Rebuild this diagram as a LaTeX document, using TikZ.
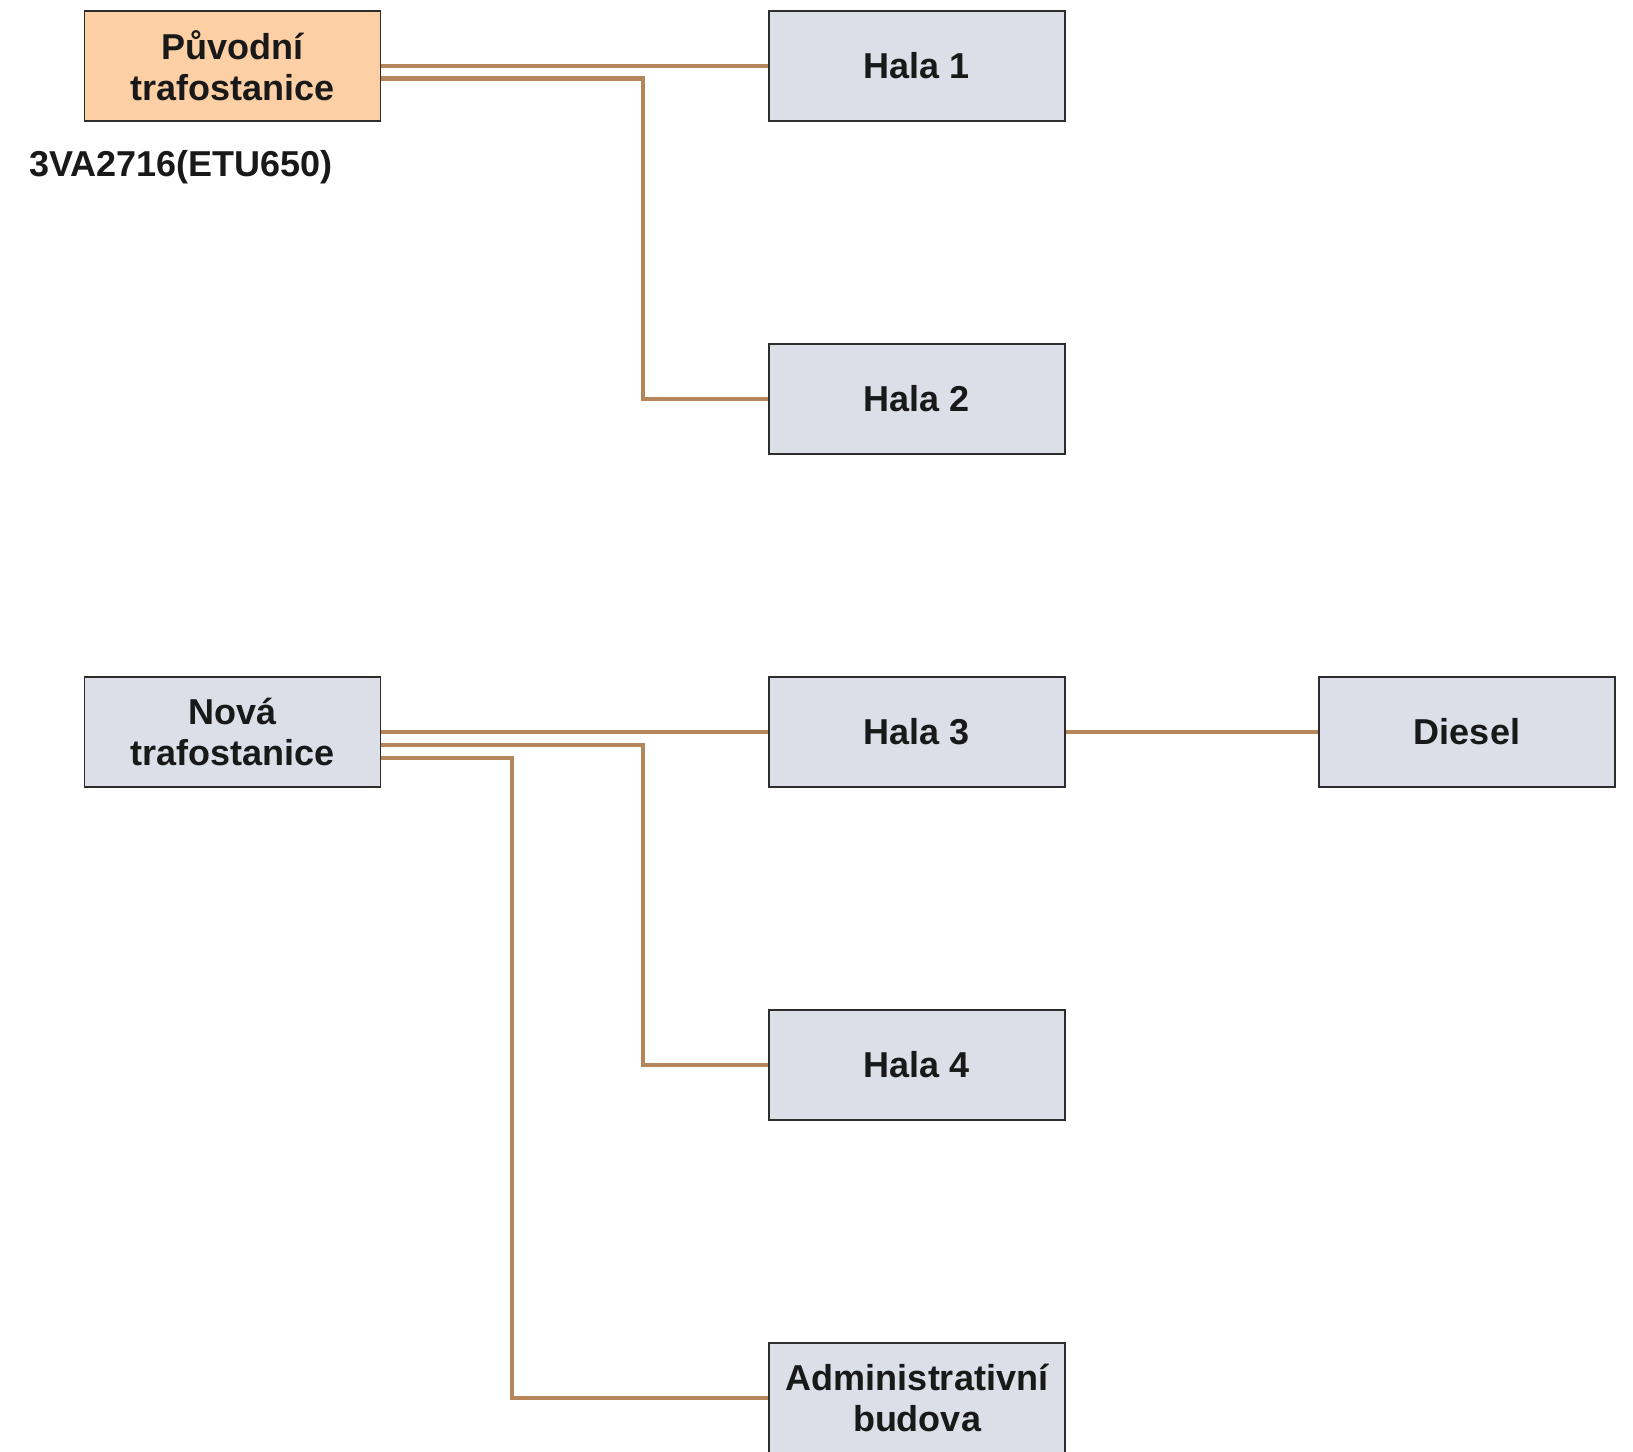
\documentclass[tikz,border=0pt]{standalone}
\usepackage{xcolor}
\usepackage{fontspec}
\setmainfont{Liberation Sans}
\usepackage{tikz}
\usetikzlibrary{positioning, calc}
\definecolor{cablebrown}{RGB}{181,134,90}
\definecolor{boxgrey}{RGB}{220,222,232}
\definecolor{boxorange}{RGB}{253,207,165}
\definecolor{edgedark}{RGB}{45,45,45}
\definecolor{txtdark}{RGB}{25,25,25}
\tikzset{
  block/.style={rectangle, draw=edgedark, fill=boxgrey,
    minimum width=296pt, minimum height=110pt, align=center,
    font=\fontsize{36}{41}\selectfont\bfseries, text=txtdark,
    line width=1.2pt, inner sep=0pt},
  srcblock/.style={block, fill=boxorange},
  cable/.style={line width=4.6pt, color=cablebrown}
}
\begin{document}
\begin{tikzpicture}[x=1pt, y=-1pt,
  lbl/.style={font=\fontsize{36}{41}\selectfont\bfseries, text=txtdark, anchor=west, inner sep=0pt}
]
\useasboundingbox (0,0) rectangle (1633,1451);

%--- OLD SUBSTATION ---
\node[srcblock] (puvodni) at (232.5, 66) {Původní\\trafostanice};
\node[lbl] (jistic) at (29, 167) {3VA2716(ETU650)};
\node[block] (hala1) at (917, 66) {Hala 1};
\node[block] (hala2) at (917, 399) {Hala 2};

%--- NEW SUBSTATION ---
\node[block] (nova) at (232.5, 732) {Nová\\trafostanice};
\node[block] (hala3) at (917, 732) {Hala 3};
\node[block] (diesel) at (1467, 732) {Diesel};
\node[block] (hala4) at (917, 1065) {Hala 4};
\node[block] (admin) at (917, 1398) {Administrativní\\budova};

% vertical risers
\coordinate (riserA) at (643, 0);
\coordinate (riserB) at (512, 0);

% cables
\draw[cable] (puvodni.east) -- (hala1.west);
\draw[cable] ($(puvodni.east)+(0,12.5)$) -| (riserA |- hala2.west) -- (hala2.west);
\draw[cable] (nova.east) -- (hala3.west);
\draw[cable] ($(nova.east)+(0,13)$) -| (riserA |- hala4.west) -- (hala4.west);
\draw[cable] ($(nova.east)+(0,26)$) -| (riserB |- admin.west) -- (admin.west);
\draw[cable] (hala3.east) -- (diesel.west);
\end{tikzpicture}
\end{document}
